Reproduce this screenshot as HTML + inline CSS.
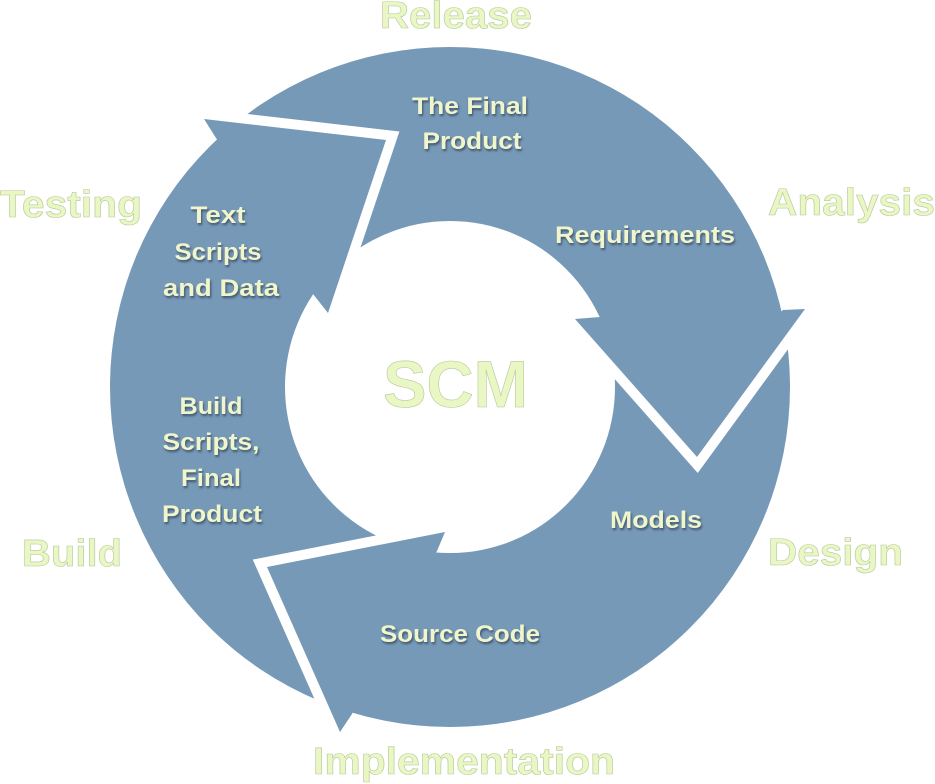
<!DOCTYPE html>
<html><head><meta charset="utf-8"><style>
html,body{margin:0;padding:0;background:#fff;}
svg{display:block;}
.in{font-family:"Liberation Sans",sans-serif;font-weight:bold;font-size:24px;fill:#F0F6CC;text-anchor:middle;text-shadow:1px 2px 2px rgba(30,40,60,.6);}
.out{font-family:"Liberation Sans",sans-serif;font-weight:bold;font-size:38px;fill:#E8F7C4;stroke:#b9c79a;stroke-width:.6;text-anchor:start;}
</style></head><body>
<svg width="935" height="784" viewBox="0 0 935 784" xmlns="http://www.w3.org/2000/svg">
<path fill="#7799B8" fill-rule="evenodd" d="M110,387 A340,340 0 1,0 790,387 A340,340 0 1,0 110,387 Z M285,387 A165,166 0 1,0 615,387 A165,166 0 1,0 285,387 Z"/>
<g fill="none" stroke="#fff" stroke-width="20" stroke-linejoin="miter" stroke-miterlimit="10">
<polyline points="204,119 386,140 328,313"/>
<polyline points="805,309 697,457 575,319"/>
<polyline points="340,732 267,567 445,532"/>
</g>
<g fill="#7799B8">
<polygon points="204,119 386,140 328,313 313,294 300,260 216,138"/>
<polygon points="805,309 697,457 575,319 600,317 760,330 783,310"/>
<polygon points="340,732 267,567 445,532 437,551 400,600 352,714"/>
</g>
<text class="out" x="380" y="28" textLength="152" lengthAdjust="spacingAndGlyphs">Release</text>
<text class="out" x="0" y="217" textLength="142" lengthAdjust="spacingAndGlyphs">Testing</text>
<text class="out" x="768" y="215" textLength="167" lengthAdjust="spacingAndGlyphs">Analysis</text>
<text class="out" x="22" y="566" textLength="100" lengthAdjust="spacingAndGlyphs">Build</text>
<text class="out" x="768" y="565" textLength="135" lengthAdjust="spacingAndGlyphs">Design</text>
<text class="out" x="313" y="774" textLength="302" lengthAdjust="spacingAndGlyphs">Implementation</text>
<text class="out" x="383" y="407" style="font-size:66px" textLength="145" lengthAdjust="spacingAndGlyphs">SCM</text>
<text class="in" x="470" y="114" textLength="116" lengthAdjust="spacingAndGlyphs">The Final</text>
<text class="in" x="472" y="149" textLength="99" lengthAdjust="spacingAndGlyphs">Product</text>
<text class="in" x="645" y="243" textLength="180" lengthAdjust="spacingAndGlyphs">Requirements</text>
<text class="in" x="218" y="223" textLength="55" lengthAdjust="spacingAndGlyphs">Text</text>
<text class="in" x="218" y="260" textLength="87" lengthAdjust="spacingAndGlyphs">Scripts</text>
<text class="in" x="221" y="296" textLength="116" lengthAdjust="spacingAndGlyphs">and Data</text>
<text class="in" x="211" y="414" textLength="63" lengthAdjust="spacingAndGlyphs">Build</text>
<text class="in" x="211" y="450" textLength="97" lengthAdjust="spacingAndGlyphs">Scripts,</text>
<text class="in" x="211" y="486" textLength="60" lengthAdjust="spacingAndGlyphs">Final</text>
<text class="in" x="212" y="522" textLength="100" lengthAdjust="spacingAndGlyphs">Product</text>
<text class="in" x="656" y="528" textLength="92" lengthAdjust="spacingAndGlyphs">Models</text>
<text class="in" x="460" y="642" textLength="160" lengthAdjust="spacingAndGlyphs">Source Code</text>
</svg>
</body></html>
